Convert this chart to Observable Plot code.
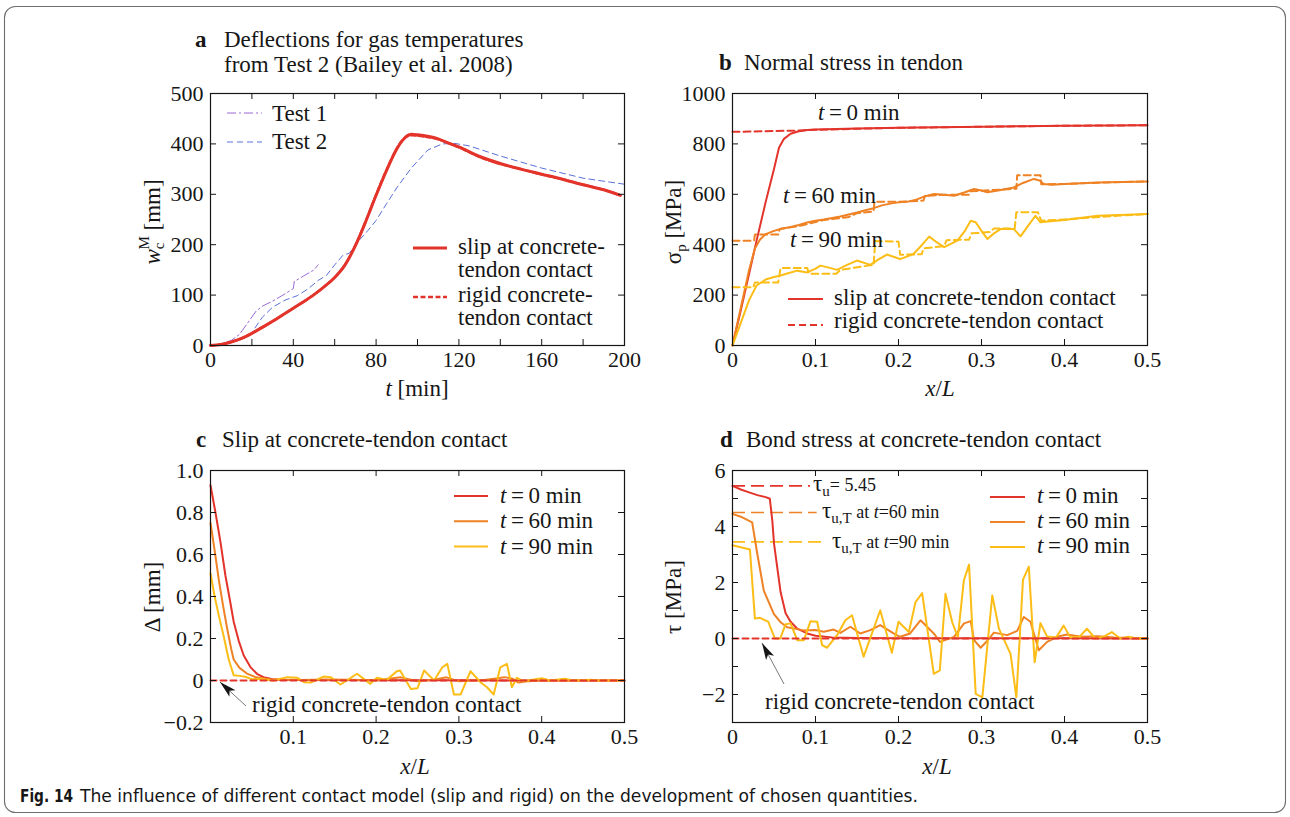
<!DOCTYPE html>
<html><head><meta charset="utf-8">
<script src="https://cdn.jsdelivr.net/npm/d3@7"></script>
<script src="https://cdn.jsdelivr.net/npm/@observablehq/plot@0.6"></script>
<style>
body{margin:0;background:#fff;}
#root{position:relative;width:1290px;height:817px;overflow:hidden;background:#fff;}
</style></head>
<body><div id="root"></div>
<script>
// ---------------- Panel a: deflection vs time ----------------
const aTicksX = [0,20,40,60,80,100,120,140,160,180,200];
const aLabelsX = [0,40,80,120,160,200];
const aTicksY = [0,100,200,300,400,500];
const aSlip = [[0,0],[5,2],[10,7],[15,14],[20,24],[25,36],[30,48],[35,61],[40,74],[45,87],[50,101],[55,117],[60,135],[65,160],[70,198],[75,246],[80,298],[85,347],[90,390],[93,408],[95,416],[97,419],[100,418],[110,410],[116,400],[120,394],[130,375],[140,361],[150,350],[160,340],[170,330],[180,319],[190,309],[198,298]];
const aRigid = [[0,0],[5,2],[10,7],[15,14],[20,24],[25,36],[30,48],[35,61],[40,74],[45,87],[50,101],[55,117],[60,135],[65,160],[70,199],[75,247],[80,299],[85,348],[90,391],[93,409],[95,415],[97,417],[100,416],[110,409],[116,400],[120,393],[130,374],[140,360],[150,350],[160,339],[170,330],[180,319],[190,309],[198,298]];
const aTest1 = [[0,0],[5,3],[10,10],[14,22],[18,45],[22,68],[25,78],[30,88],[35,100],[40,113],[40.5,127],[45,138],[50,150],[52,160]];
const aTest2 = [[0,0],[10,7],[15,12],[19,20],[22,38],[25,56],[30,76],[36,90],[42,99],[47,112],[52,129],[56,139],[60,160],[64,179],[67,183],[71,205],[76,228],[80,248],[85,281],[90,313],[97,352],[105,388],[112,400],[118,401],[125,396],[140,376],[160,352],[180,332],[200,320]];

// ---------------- Panel b: normal stress in tendon ----------------
const bTicksX = [0,0.1,0.2,0.3,0.4,0.5];
const bTicksY = [0,200,400,600,800,1000];
const bSlip0 = [[0,0],[0.01,140],[0.02,285],[0.03,430],[0.04,570],[0.05,700],[0.056,785],[0.062,820],[0.07,840],[0.08,850],[0.09,855],[0.1,857],[0.15,861],[0.2,864],[0.25,866],[0.3,868],[0.35,870],[0.4,872],[0.45,873],[0.5,874]];
const bRigid0 = [[0,848],[0.02,849],[0.05,851],[0.08,853],[0.1,856],[0.2,864],[0.3,868],[0.4,872],[0.5,874]];
const bSlip60 = [[0,0],[0.01,150],[0.02,300],[0.027,385],[0.033,420],[0.04,442],[0.05,455],[0.06,464],[0.07,470],[0.08,478],[0.09,488],[0.1,495],[0.11,500],[0.12,506],[0.13,512],[0.14,520],[0.15,528],[0.16,537],[0.17,545],[0.18,556],[0.19,563],[0.2,568],[0.21,570],[0.22,577],[0.23,590],[0.243,601],[0.255,598],[0.267,594],[0.28,608],[0.291,621],[0.3,615],[0.307,608],[0.32,615],[0.339,627],[0.35,645],[0.363,661],[0.37,655],[0.375,641],[0.385,638],[0.4,641],[0.44,647],[0.5,651]];
const bRigid60 = [[0,416],[0.026,416],[0.027,440],[0.055,440],[0.057,462],[0.08,474],[0.1,490],[0.11,498],[0.14,510],[0.15,525],[0.17,532],[0.171,570],[0.2,570],[0.23,575],[0.232,594],[0.257,598],[0.285,598],[0.287,612],[0.31,616],[0.342,622],[0.343,676],[0.371,676],[0.372,640],[0.4,641],[0.45,647],[0.5,651]];
const bSlip90 = [[0,0],[0.01,90],[0.02,180],[0.029,238],[0.04,262],[0.05,272],[0.058,278],[0.068,288],[0.078,297],[0.09,290],[0.1,305],[0.106,317],[0.115,310],[0.126,300],[0.138,320],[0.15,337],[0.166,320],[0.176,342],[0.186,361],[0.202,343],[0.218,363],[0.228,398],[0.237,432],[0.246,410],[0.255,390],[0.271,416],[0.28,455],[0.287,495],[0.293,489],[0.3,455],[0.307,423],[0.315,445],[0.323,462],[0.339,462],[0.347,433],[0.355,470],[0.365,515],[0.371,489],[0.38,492],[0.4,498],[0.44,515],[0.5,522]];
const bRigid90 = [[0,231],[0.025,231],[0.027,250],[0.055,250],[0.058,308],[0.09,308],[0.092,285],[0.125,285],[0.13,300],[0.165,318],[0.17,318],[0.172,415],[0.2,412],[0.202,360],[0.228,362],[0.23,385],[0.255,395],[0.258,418],[0.285,420],[0.288,445],[0.31,450],[0.315,464],[0.34,464],[0.342,529],[0.368,529],[0.372,495],[0.4,500],[0.45,512],[0.5,522]];

// ---------------- Panel c: slip ----------------
const cTicksX = [0.1,0.2,0.3,0.4,0.5];
const cTicksY = [-0.2,0,0.2,0.4,0.6,0.8,1.0];
const cSlip0 = [[0,0.93],[0.006,0.8],[0.012,0.66],[0.018,0.5],[0.024,0.37],[0.028,0.28],[0.034,0.19],[0.04,0.12],[0.048,0.065],[0.056,0.032],[0.064,0.016],[0.075,0.006],[0.09,0.003],[0.12,0.002],[0.2,0.001],[0.3,0.001],[0.4,0],[0.5,0]];
const cSlip60 = [[0,0.75],[0.005,0.62],[0.01,0.48],[0.015,0.36],[0.02,0.25],[0.025,0.15],[0.028,0.1],[0.035,0.06],[0.044,0.033],[0.055,0.015],[0.07,0.006],[0.09,0.004],[0.11,0.002],[0.14,0.005],[0.17,0.004],[0.2,0],[0.215,0.008],[0.23,0.015],[0.25,-0.004],[0.27,0.004],[0.285,0.015],[0.3,-0.004],[0.33,0.002],[0.345,0.01],[0.355,0.016],[0.365,0.008],[0.372,-0.01],[0.385,-0.003],[0.4,0.001],[0.5,0]];
const cSlip90 = [[0,0.51],[0.005,0.4],[0.01,0.31],[0.016,0.21],[0.022,0.1],[0.028,0.025],[0.035,0.022],[0.042,0.018],[0.05,0.006],[0.06,0.008],[0.076,0],[0.093,0.016],[0.105,0.013],[0.113,-0.008],[0.121,-0.01],[0.137,0.019],[0.145,0.016],[0.157,-0.019],[0.177,0.032],[0.193,-0.016],[0.201,0.013],[0.213,0.003],[0.225,0.044],[0.229,0.048],[0.242,-0.04],[0.25,-0.037],[0.258,0.048],[0.27,0],[0.28,0.063],[0.286,0.079],[0.294,-0.067],[0.302,-0.067],[0.314,0.044],[0.326,-0.008],[0.334,-0.032],[0.342,-0.067],[0.35,0.063],[0.358,0.079],[0.364,-0.032],[0.37,0.013],[0.378,-0.003],[0.4,0.011],[0.41,0],[0.428,0.008],[0.438,0],[0.459,0.003],[0.47,0],[0.5,0]];
const cRigid = [[0,0],[0.5,0]];

// ---------------- Panel d: bond stress ----------------
const dTicksX = [0,0.1,0.2,0.3,0.4,0.5];
const dTicksY = [-3,-2,-1,0,1,2,3,4,5,6];
const dLabelsY = [-2,0,2,4,6];
const dSlip0 = [[0,5.45],[0.01,5.32],[0.02,5.22],[0.03,5.12],[0.04,5.05],[0.045,4.99],[0.048,4.2],[0.05,3.4],[0.055,2.3],[0.058,1.65],[0.064,0.9],[0.07,0.6],[0.078,0.35],[0.09,0.18],[0.1,0.1],[0.12,0.04],[0.15,0.02],[0.2,0.01],[0.3,0.01],[0.4,0.005],[0.5,0]];
const dSlip60 = [[0,4.45],[0.01,4.35],[0.0237,4.15],[0.03,3.0],[0.0377,1.71],[0.0498,0.88],[0.058,0.58],[0.0659,0.4],[0.086,0.29],[0.0998,0.3],[0.11,0.24],[0.122,0.32],[0.13,0.2],[0.142,0.42],[0.154,0.18],[0.166,0.3],[0.178,0.48],[0.194,0.18],[0.202,0.06],[0.214,0.18],[0.2265,0.65],[0.2425,0.18],[0.25,-0.12],[0.267,0.06],[0.279,0.54],[0.287,0.62],[0.291,-0.06],[0.299,-0.33],[0.307,-0.08],[0.315,0.21],[0.331,0.12],[0.343,0.27],[0.351,0.77],[0.359,0.6],[0.369,-0.42],[0.379,-0.12],[0.391,0.06],[0.403,0.14],[0.42,0.06],[0.44,0.08],[0.46,0.04],[0.5,0]];
const dSlip90 = [[0,3.33],[0.021,3.18],[0.027,0.71],[0.033,0.74],[0.043,0.6],[0.051,0],[0.0575,0],[0.064,0.51],[0.07,0.54],[0.078,-0.06],[0.086,-0.06],[0.094,0.62],[0.102,0.6],[0.108,-0.24],[0.114,-0.33],[0.126,0.12],[0.136,0.65],[0.144,0.83],[0.158,-0.65],[0.178,1.01],[0.192,-0.51],[0.2,0.6],[0.2125,0.23],[0.2205,1.3],[0.2285,1.62],[0.2425,-1.26],[0.2498,-1.14],[0.2566,1.6],[0.2647,0.58],[0.2715,0.05],[0.2787,2.07],[0.285,2.64],[0.293,-1.98],[0.301,-2.1],[0.313,1.54],[0.321,0.35],[0.335,-0.55],[0.342,-2.1],[0.35,2.1],[0.357,2.57],[0.364,-0.85],[0.371,0.55],[0.379,0.07],[0.39,0.04],[0.399,0.46],[0.407,0.04],[0.418,0.06],[0.427,0.35],[0.437,0],[0.447,0.06],[0.457,0.23],[0.467,0],[0.477,0.06],[0.488,0],[0.5,0]];
const dRigid = [[0,0],[0.5,0]];
const dTauRef = [5.45, 4.5, 3.45];
const dTauRefEnd = [0.094, 0.102, 0.11];

// ---------------- styles ----------------
const RED = "#e3342b", ORANGE = "#ef8224", YELLOW = "#fbbd16", PURPLE = "#9a6ad6", BLUE = "#5b70d8", INK = "#161616";
const SERIF = "'Liberation Serif', 'Times New Roman', serif";
const root = document.getElementById("root");
const X = d => d[0], Y = d => d[1];

function panel(o) {
  const innerW = o.width - o.ml - o.mr, innerH = o.height - o.mt - o.mb, tk = 6;
  const svg = Plot.plot({
    width: o.width, height: o.height,
    marginLeft: o.ml, marginRight: o.mr, marginTop: o.mt, marginBottom: o.mb,
    x: {domain: o.xd}, y: {domain: o.yd},
    style: `font-family: ${SERIF}; font-size: 22px; color: ${INK}; background: transparent; overflow: visible;`,
    marks: [
      ...o.marks,
      Plot.ruleX(o.xt, {x: d => d, insetTop: innerH - tk, stroke: INK, strokeWidth: 1}),
      Plot.ruleX(o.xt, {x: d => d, insetBottom: innerH - tk, stroke: INK, strokeWidth: 1}),
      Plot.ruleY(o.yt, {y: d => d, insetRight: innerW - tk, stroke: INK, strokeWidth: 1}),
      Plot.ruleY(o.yt, {y: d => d, insetLeft: innerW - tk, stroke: INK, strokeWidth: 1}),
      Plot.frame({stroke: INK, strokeWidth: 1.2}),
      Plot.axisX({ticks: o.xl, tickSize: 0, tickPadding: 6, tickFormat: o.xf || (d => String(d)), label: null}),
      Plot.axisY({ticks: o.yl, tickSize: 0, tickPadding: 7, tickFormat: o.yf || (d => String(d)), label: null})
    ]
  });
  svg.setAttribute("font-family", SERIF);
  svg.setAttribute("font-size", "22");
  d3.select(svg).selectAll("text").attr("font-family", SERIF).attr("font-size", 22).attr("fill", INK);
  svg.style.position = "absolute";
  svg.style.left = o.left + "px";
  svg.style.top = o.top + "px";
  root.appendChild(svg);
}
const fmtX = d => d === 0 ? "0" : String(d);
const minus = s => s.replace("-", "\u2212");

// Panel a
panel({left: 140, top: 80, width: 500, height: 330, ml: 70, mr: 16, mt: 13, mb: 65,
  xd: [0, 200], yd: [0, 500], xt: aTicksX, xl: aLabelsX, yt: aTicksY, yl: aTicksY,
  marks: [
    Plot.line(aTest2, {x: X, y: Y, stroke: BLUE, strokeWidth: 1, strokeDasharray: "6,4"}),
    Plot.line(aTest1, {x: X, y: Y, stroke: PURPLE, strokeWidth: 1, strokeDasharray: "9,3,2,3"}),
    Plot.line(aSlip, {x: X, y: Y, stroke: RED, strokeWidth: 3, curve: "monotone-x"}),
    Plot.line(aRigid, {x: X, y: Y, stroke: RED, strokeWidth: 2.4, strokeDasharray: "5,2.5", curve: "monotone-x"})
  ]});

// Panel b
panel({left: 660, top: 80, width: 500, height: 330, ml: 72, mr: 13, mt: 13, mb: 65,
  xd: [0, 0.5], yd: [0, 1000], xt: bTicksX, xl: bTicksX, yt: bTicksY, yl: bTicksY, xf: fmtX,
  marks: [
    Plot.line(bSlip0, {x: X, y: Y, stroke: RED, strokeWidth: 2}),
    Plot.line(bRigid0, {x: X, y: Y, stroke: RED, strokeWidth: 2, strokeDasharray: "7,4"}),
    Plot.line(bSlip60, {x: X, y: Y, stroke: ORANGE, strokeWidth: 2}),
    Plot.line(bRigid60, {x: X, y: Y, stroke: ORANGE, strokeWidth: 2, strokeDasharray: "7,4"}),
    Plot.line(bSlip90, {x: X, y: Y, stroke: YELLOW, strokeWidth: 2}),
    Plot.line(bRigid90, {x: X, y: Y, stroke: YELLOW, strokeWidth: 2, strokeDasharray: "7,4"})
  ]});

// Panel c
panel({left: 140, top: 455, width: 500, height: 330, ml: 70, mr: 16, mt: 15, mb: 63,
  xd: [0, 0.5], yd: [-0.2, 1.0], xt: cTicksX, xl: cTicksX, yt: cTicksY, yl: cTicksY, xf: fmtX,
  yf: d => d === 0 ? "0" : minus(d.toFixed(1)),
  marks: [
    Plot.line(cSlip0, {x: X, y: Y, stroke: RED, strokeWidth: 2}),
    Plot.line(cSlip60, {x: X, y: Y, stroke: ORANGE, strokeWidth: 2}),
    Plot.line(cSlip90, {x: X, y: Y, stroke: YELLOW, strokeWidth: 2}),
    Plot.line(cRigid, {x: X, y: Y, stroke: RED, strokeWidth: 2, strokeDasharray: "6,4"})
  ]});

// Panel d
panel({left: 660, top: 455, width: 500, height: 330, ml: 72, mr: 13, mt: 15, mb: 63,
  xd: [0, 0.5], yd: [-3, 6], xt: dTicksX, xl: dTicksX, yt: dTicksY, yl: dLabelsY, xf: fmtX,
  yf: d => minus(String(d)),
  marks: [
    Plot.ruleY(dTauRef, {y: d => d, x1: 0, x2: (d, i) => dTauRefEnd[i], stroke: [RED, ORANGE, YELLOW], strokeWidth: 1.6, strokeDasharray: "13,6"}),
    Plot.line(dSlip0, {x: X, y: Y, stroke: RED, strokeWidth: 2}),
    Plot.line(dSlip60, {x: X, y: Y, stroke: ORANGE, strokeWidth: 2}),
    Plot.line(dSlip90, {x: X, y: Y, stroke: YELLOW, strokeWidth: 2}),
    Plot.line(dRigid, {x: X, y: Y, stroke: RED, strokeWidth: 2, strokeDasharray: "6,4"})
  ]});

// ---------------- overlay: titles, labels, legends, annotations ----------------
const ov = d3.select(root).append("svg").attr("width", 1290).attr("height", 817)
  .style("position", "absolute").style("left", "0px").style("top", "0px").style("pointer-events", "none")
  .attr("font-family", SERIF).attr("fill", INK);

ov.append("rect").attr("x", 4.5).attr("y", 6.5).attr("width", 1281).attr("height", 806).attr("rx", 11)
  .attr("fill", "none").attr("stroke", "#6e6e6e").attr("stroke-width", 1.1);

function text(x, y, parts, opt = {}) {
  const t = ov.append("text").attr("x", x).attr("y", y).attr("font-size", opt.size || 23)
    .attr("text-anchor", opt.anchor || "start");
  if (opt.rotate != null) t.attr("transform", `rotate(${opt.rotate},${x},${y})`);
  if (opt.family) t.attr("font-family", opt.family);
  for (const p of parts) {
    if (typeof p === "string") { t.append("tspan").text(p); continue; }
    const s = t.append("tspan").text(p.t);
    if (p.i) s.attr("font-style", "italic");
    if (p.b) s.attr("font-weight", "bold");
    if (p.s) s.attr("font-size", p.s);
    if (p.dy) s.attr("dy", p.dy);
    if (p.dx) s.attr("dx", p.dx);
  }
  return t;
}
function seg(x1, y, x2, color, width, dash) {
  const l = ov.append("line").attr("x1", x1).attr("x2", x2).attr("y1", y).attr("y2", y)
    .attr("stroke", color).attr("stroke-width", width);
  if (dash) l.attr("stroke-dasharray", dash);
}
function arrow(tx, ty, hx, hy) {
  ov.append("line").attr("x1", tx).attr("y1", ty).attr("x2", hx).attr("y2", hy)
    .attr("stroke", "#555").attr("stroke-width", 0.8);
  const dx = hx - tx, dy = hy - ty, L = Math.hypot(dx, dy), ux = dx / L, uy = dy / L;
  const len = 17, w = 4.5, bx = hx - ux * len, by = hy - uy * len;
  ov.append("path").attr("d", `M${hx},${hy}L${bx - uy * w},${by + ux * w}L${bx + ux * 4},${by + uy * 4}L${bx + uy * w},${by - ux * w}Z`)
    .attr("fill", INK);
}

// panel titles
text(195, 47, [{t: "a", b: true}]);
text(224, 47, ["Deflections for gas temperatures"]);
text(224, 72, ["from Test 2 (Bailey et al. 2008)"]);
text(719, 70, [{t: "b", b: true}]);
text(744, 70, ["Normal stress in tendon"]);
text(196, 447, [{t: "c", b: true}]);
text(222, 447, ["Slip at concrete-tendon contact"]);
text(720, 447, [{t: "d", b: true}]);
text(746, 447, ["Bond stress at concrete-tendon contact"]);

// axis titles
text(417, 396, [{t: "t", i: true}, " [min]"], {anchor: "middle"});
text(940, 396, [{t: "x", i: true}, "/", {t: "L", i: true}], {anchor: "middle"});
text(415, 774, [{t: "x", i: true}, "/", {t: "L", i: true}], {anchor: "middle"});
text(937, 774, [{t: "x", i: true}, "/", {t: "L", i: true}], {anchor: "middle"});
text(160, 222, [{t: "w", i: true}, {t: "c", s: 15, dy: 4}, {t: "M", s: 15, dy: -15, dx: -7}, {t: " [mm]", dy: 11}], {anchor: "middle", rotate: -90});
text(681, 222, ["\u03c3", {t: "p", s: 15, dy: 5}, {t: " [MPa]", dy: -5}], {anchor: "middle", rotate: -90});
text(160, 597, ["\u0394 [mm]"], {anchor: "middle", rotate: -90});
text(681, 597, ["\u03c4 [MPa]"], {anchor: "middle", rotate: -90});

// panel a legends
seg(227, 113, 262, PURPLE, 1, "9,3,2,3");
text(272, 121, ["Test 1"]);
seg(227, 142, 262, BLUE, 1, "6,4");
text(272, 149, ["Test 2"]);
seg(413, 248, 447, RED, 3);
text(458, 254, ["slip at concrete-"]);
text(458, 277, ["tendon contact"]);
seg(413, 297, 447, RED, 2.6, "5,2.5");
text(458, 302, ["rigid concrete-"]);
text(458, 325, ["tendon contact"]);

// panel b annotations + legend
text(818, 120, [{t: "t", i: true}, "\u2009=\u20090 min"]);
text(783, 203, [{t: "t", i: true}, "\u2009=\u200960 min"]);
text(790, 247, [{t: "t", i: true}, "\u2009=\u200990 min"]);
seg(788, 299, 823, RED, 2);
text(834, 305, ["slip at concrete-tendon contact"]);
seg(788, 325, 823, RED, 2, "7,4");
text(834, 328, ["rigid concrete-tendon contact"]);

// panel c / d legends
const tl = [["0", RED], ["60", ORANGE], ["90", YELLOW]];
tl.forEach(([v, c], i) => {
  seg(454, 496 + i * 25.3, 488, c, 2);
  text(500, 503 + i * 25.3, [{t: "t", i: true}, "\u2009=\u2009" + v + " min"]);
  seg(990, 497 + i * 25, 1025, c, 2);
  text(1037, 503 + i * 25, [{t: "t", i: true}, "\u2009=\u2009" + v + " min"]);
});
text(252, 712, ["rigid concrete-tendon contact"]);
arrow(246, 706, 220, 682);

// panel d annotations
text(813, 491, ["\u03c4", {t: "u", s: 15, dy: 5}, {t: "= 5.45", s: 18, dy: -5}]);
text(822, 518, ["\u03c4", {t: "u,T", s: 15, dy: 5}, {t: " at ", s: 18, dy: -5}, {t: "t", s: 18, i: true}, {t: "=60 min", s: 18}]);
text(832, 548, ["\u03c4", {t: "u,T", s: 15, dy: 5}, {t: " at ", s: 18, dy: -5}, {t: "t", s: 18, i: true}, {t: "=90 min", s: 18}]);
text(765, 709, ["rigid concrete-tendon contact"]);
arrow(784, 684, 762, 643);

// caption
const SANS = "'Liberation Sans Narrow', 'DejaVu Sans Condensed', 'Liberation Sans', sans-serif";
text(20, 802, [{t: "Fig. 14", b: true}], {size: 17, family: SANS})
  .attr("textLength", 53).attr("lengthAdjust", "spacingAndGlyphs");
text(80, 802, ["The influence of different contact model (slip and rigid) on the development of chosen quantities."], {size: 17, family: SANS})
  .attr("textLength", 838).attr("lengthAdjust", "spacingAndGlyphs");
</script>
</body></html>
